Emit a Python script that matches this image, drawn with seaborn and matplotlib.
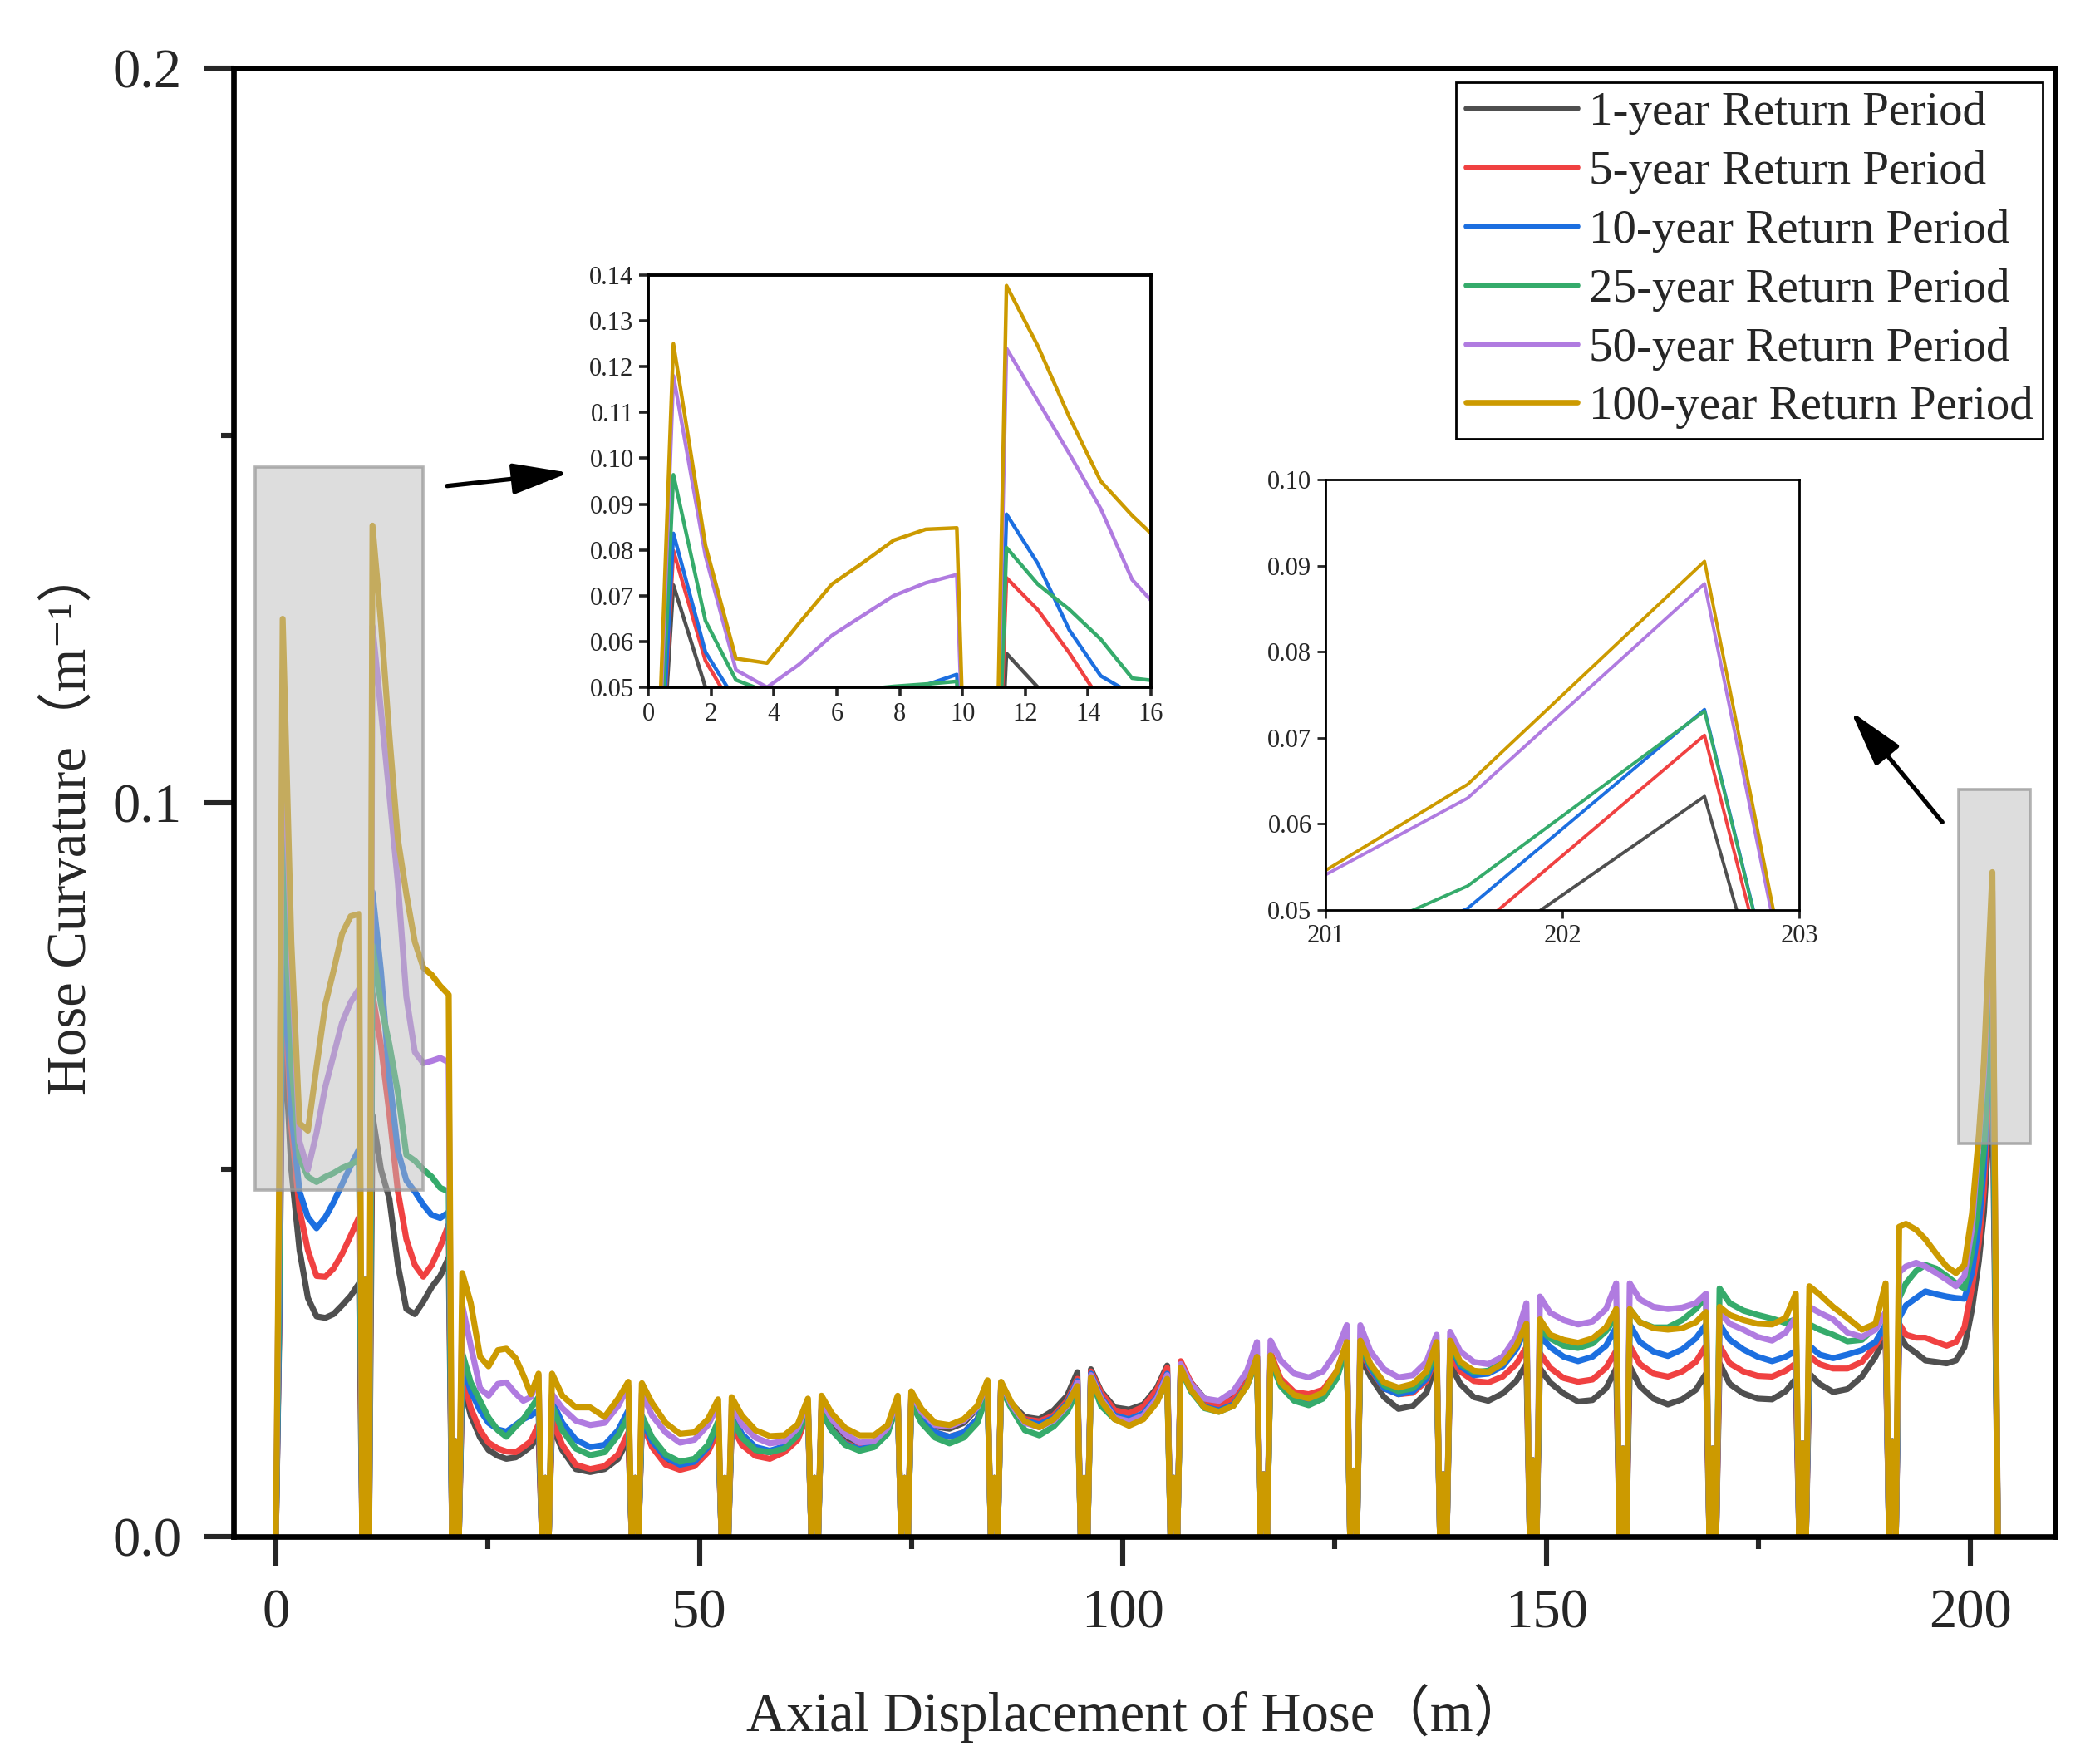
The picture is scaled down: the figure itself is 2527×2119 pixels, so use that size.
import matplotlib
matplotlib.use("Agg")
import matplotlib.pyplot as plt
import seaborn as sns
import pandas as pd
from matplotlib.patches import Rectangle

# ---------------- data ----------------
periods = ["1-year Return Period", "5-year Return Period", "10-year Return Period",
           "25-year Return Period", "50-year Return Period", "100-year Return Period"]
colors = ["#4f4f4f", "#f04141", "#1c6fe0", "#35ab6b", "#b07be0", "#cc9a00"]

# axial positions (m) of the support points where curvature drops to zero
dip_x = [10.6, 21.2, 31.8, 42.4, 53.0, 63.6, 74.2, 84.8, 95.4, 106.0, 116.6,
         127.2, 137.8, 148.4, 159.0, 169.6, 180.2, 190.8]
dip_spike = [0.035, 0.013, 0.008, 0.008, 0.008, 0.008, 0.008, 0.008, 0.008, 0.008,
             0.0085, 0.009, 0.0085, 0.0104, 0.012, 0.012, 0.0127, 0.013]
end_x = 203.25

seg_x = [
    [0.0, 0.4, 0.8, 1.82, 2.79, 3.78, 4.8, 5.84, 6.79, 7.81, 8.83, 9.82],
    [11.4, 12.4, 13.4, 14.4, 15.4, 16.4, 17.4, 18.4, 19.4, 20.4],
    [22.0, 23.0, 24.1, 25.1, 26.2, 27.2, 28.3, 29.2, 30.1, 31.0],
    [32.6, 33.8, 35.4, 37.1, 38.8, 40.4, 41.6],
    [43.2, 44.4, 46.0, 47.7, 49.4, 51.0, 52.2],
    [53.8, 55.0, 56.6, 58.3, 60.0, 61.6, 62.8],
    [64.4, 65.6, 67.2, 68.9, 70.6, 72.2, 73.4],
    [75.0, 76.2, 77.8, 79.5, 81.2, 82.8, 84.0],
    [85.6, 86.8, 88.4, 90.1, 91.8, 93.4, 94.6],
    [96.2, 97.4, 99.0, 100.7, 102.4, 104.0, 105.2],
    [106.8, 108.0, 109.6, 111.3, 113.0, 114.6, 115.8],
    [117.4, 118.6, 120.2, 121.9, 123.6, 125.2, 126.4],
    [128.0, 129.2, 130.8, 132.5, 134.2, 135.8, 137.0],
    [138.6, 139.8, 141.4, 143.1, 144.8, 146.4, 147.6],
    [149.2, 150.4, 152.0, 153.7, 155.4, 157.0, 158.2],
    [159.8, 161.0, 162.6, 164.3, 166.0, 167.6, 168.8],
    [170.4, 171.6, 173.2, 174.9, 176.6, 178.2, 179.4],
    [181.0, 182.2, 183.8, 185.5, 187.2, 188.8, 190.0],
    [191.6, 192.4, 193.6, 194.7, 196.0, 197.2, 198.3, 199.3, 200.2, 201.0, 201.6, 202.6],
]

k_1yr = [
    [0.0, 0.028, 0.0723, 0.050, 0.039, 0.0325, 0.030, 0.0298, 0.0303, 0.0315, 0.0328, 0.0345],
    [0.0574, 0.050, 0.046, 0.037, 0.031, 0.0303, 0.032, 0.034, 0.0355, 0.038],
    [0.021, 0.0165, 0.0135, 0.0118, 0.011, 0.0106, 0.0108, 0.0115, 0.0123, 0.0138],
    [0.0152, 0.0118, 0.0092, 0.0088, 0.0092, 0.0106, 0.0134],
    [0.016, 0.0128, 0.0104, 0.0096, 0.0099, 0.0118, 0.0149],
    [0.0152, 0.013, 0.0117, 0.0115, 0.0122, 0.014, 0.0175],
    [0.0175, 0.0148, 0.013, 0.0122, 0.0127, 0.0145, 0.0185],
    [0.019, 0.0165, 0.015, 0.0147, 0.0155, 0.0175, 0.0205],
    [0.0205, 0.0181, 0.0163, 0.016, 0.0172, 0.0192, 0.0224],
    [0.0228, 0.0198, 0.0176, 0.0173, 0.018, 0.0203, 0.0233],
    [0.0235, 0.021, 0.0188, 0.0183, 0.019, 0.0212, 0.0245],
    [0.0245, 0.0212, 0.0193, 0.019, 0.0197, 0.0222, 0.026],
    [0.0245, 0.0218, 0.019, 0.0174, 0.0178, 0.0196, 0.0239],
    [0.0235, 0.0208, 0.019, 0.0185, 0.0195, 0.0212, 0.0235],
    [0.0229, 0.021, 0.0195, 0.0184, 0.0186, 0.0202, 0.0229],
    [0.0232, 0.0205, 0.0188, 0.018, 0.0187, 0.020, 0.0222],
    [0.0236, 0.0208, 0.0195, 0.0188, 0.0187, 0.0198, 0.0215],
    [0.0222, 0.0208, 0.0197, 0.0201, 0.0218, 0.0245, 0.0274],
    [0.0275, 0.026, 0.025, 0.024, 0.0238, 0.0236, 0.024, 0.0258, 0.031, 0.0375, 0.0441, 0.0632],
]

k_5yr = [
    [0.0, 0.030, 0.0798, 0.0558, 0.0445, 0.039, 0.0355, 0.0354, 0.0365, 0.0385, 0.041, 0.0435],
    [0.0739, 0.0669, 0.0575, 0.047, 0.0405, 0.037, 0.0354, 0.037, 0.0395, 0.0425],
    [0.022, 0.0175, 0.0145, 0.0128, 0.012, 0.0116, 0.0115, 0.0122, 0.013, 0.0153],
    [0.016, 0.0125, 0.0098, 0.0092, 0.0096, 0.0112, 0.0142],
    [0.0155, 0.0122, 0.0098, 0.0091, 0.0096, 0.0115, 0.0145],
    [0.0152, 0.0125, 0.011, 0.0106, 0.0115, 0.0132, 0.0168],
    [0.0172, 0.0145, 0.0127, 0.012, 0.0125, 0.0143, 0.0183],
    [0.0185, 0.016, 0.0142, 0.0136, 0.0142, 0.016, 0.0198],
    [0.0205, 0.0178, 0.016, 0.0157, 0.0165, 0.0185, 0.0215],
    [0.0225, 0.0196, 0.0172, 0.0168, 0.0177, 0.020, 0.023],
    [0.0239, 0.021, 0.0185, 0.0179, 0.0187, 0.021, 0.0245],
    [0.025, 0.0215, 0.0197, 0.0194, 0.020, 0.0225, 0.0262],
    [0.0255, 0.0228, 0.0202, 0.0194, 0.0196, 0.0212, 0.0247],
    [0.0247, 0.0225, 0.0212, 0.021, 0.0218, 0.0235, 0.0258],
    [0.025, 0.023, 0.0216, 0.0211, 0.0214, 0.023, 0.0253],
    [0.026, 0.0235, 0.0222, 0.0218, 0.0225, 0.0238, 0.026],
    [0.026, 0.0236, 0.0225, 0.0219, 0.0218, 0.0226, 0.0236],
    [0.0246, 0.0235, 0.0229, 0.0229, 0.0238, 0.026, 0.0282],
    [0.029, 0.0275, 0.0271, 0.0271, 0.0265, 0.026, 0.0265, 0.0285, 0.034, 0.040, 0.047, 0.0703],
]

k_10yr = [
    [0.0, 0.030, 0.0836, 0.0577, 0.047, 0.0435, 0.042, 0.0435, 0.0455, 0.048, 0.0505, 0.0528],
    [0.0878, 0.077, 0.0625, 0.0525, 0.0485, 0.047, 0.0452, 0.0438, 0.0434, 0.0442],
    [0.0235, 0.0198, 0.0172, 0.0155, 0.0146, 0.0143, 0.0152, 0.016, 0.0165, 0.0172],
    [0.0185, 0.0155, 0.0132, 0.0122, 0.0125, 0.0145, 0.0172],
    [0.016, 0.013, 0.0108, 0.0098, 0.0102, 0.0122, 0.0155],
    [0.0165, 0.014, 0.0122, 0.0117, 0.0123, 0.014, 0.0175],
    [0.0172, 0.0145, 0.0126, 0.0119, 0.0124, 0.0142, 0.0183],
    [0.0185, 0.016, 0.0142, 0.0136, 0.0142, 0.016, 0.020],
    [0.0205, 0.0178, 0.0158, 0.0153, 0.0162, 0.0182, 0.0212],
    [0.0222, 0.019, 0.0165, 0.016, 0.0168, 0.019, 0.0222],
    [0.023, 0.020, 0.0177, 0.0172, 0.018, 0.0206, 0.0242],
    [0.0245, 0.021, 0.019, 0.0187, 0.0195, 0.022, 0.026],
    [0.026, 0.023, 0.0202, 0.0194, 0.0198, 0.0215, 0.025],
    [0.026, 0.0232, 0.022, 0.0222, 0.0232, 0.0255, 0.0285],
    [0.0274, 0.0258, 0.0245, 0.0239, 0.0245, 0.026, 0.0285],
    [0.0289, 0.0265, 0.0252, 0.0246, 0.0255, 0.027, 0.0289],
    [0.0289, 0.0268, 0.0255, 0.0245, 0.0239, 0.0245, 0.0253],
    [0.026, 0.0248, 0.0243, 0.0248, 0.0254, 0.0265, 0.0289],
    [0.0298, 0.0315, 0.0325, 0.0334, 0.033, 0.0327, 0.0325, 0.0324, 0.036, 0.0425, 0.0502, 0.0733],
]

k_25yr = [
    [0.0, 0.035, 0.0964, 0.0645, 0.0516, 0.049, 0.0483, 0.049, 0.0495, 0.0502, 0.0507, 0.0513],
    [0.0805, 0.0725, 0.067, 0.0605, 0.052, 0.0512, 0.050, 0.049, 0.0475, 0.047],
    [0.025, 0.021, 0.0185, 0.0162, 0.0145, 0.0136, 0.015, 0.016, 0.0175, 0.019],
    [0.0178, 0.0145, 0.012, 0.0111, 0.0115, 0.0138, 0.0164],
    [0.0165, 0.0135, 0.0112, 0.0102, 0.0106, 0.0125, 0.0157],
    [0.016, 0.0135, 0.0118, 0.0115, 0.012, 0.0138, 0.0172],
    [0.0172, 0.0145, 0.0125, 0.0117, 0.0122, 0.014, 0.0183],
    [0.0182, 0.0155, 0.0135, 0.0127, 0.0135, 0.0155, 0.0195],
    [0.0202, 0.0175, 0.0145, 0.0138, 0.015, 0.017, 0.0198],
    [0.0215, 0.0178, 0.016, 0.0155, 0.0162, 0.0185, 0.0211],
    [0.0228, 0.0198, 0.0175, 0.017, 0.0178, 0.0205, 0.024],
    [0.024, 0.0205, 0.0185, 0.0179, 0.0188, 0.0215, 0.0258],
    [0.026, 0.0233, 0.0206, 0.0198, 0.0202, 0.022, 0.0254],
    [0.0262, 0.0235, 0.0224, 0.0226, 0.0238, 0.0262, 0.0292],
    [0.0282, 0.027, 0.026, 0.0257, 0.0263, 0.028, 0.030],
    [0.031, 0.0292, 0.0285, 0.0285, 0.0295, 0.031, 0.0327],
    [0.0338, 0.0318, 0.0308, 0.0302, 0.0297, 0.0291, 0.0296],
    [0.0289, 0.0282, 0.0275, 0.0266, 0.0268, 0.0285, 0.0303],
    [0.0325, 0.0345, 0.0362, 0.037, 0.0365, 0.0355, 0.0345, 0.0338, 0.039, 0.0455, 0.0528, 0.0731],
]

k_50yr = [
    [0.0, 0.045, 0.118, 0.0787, 0.0538, 0.050, 0.055, 0.0613, 0.0655, 0.070, 0.0728, 0.0746],
    [0.124, 0.1125, 0.101, 0.089, 0.0735, 0.066, 0.0645, 0.0648, 0.0652, 0.0646],
    [0.0315, 0.026, 0.0202, 0.0192, 0.0208, 0.021, 0.0195, 0.0185, 0.019, 0.022],
    [0.0194, 0.0175, 0.0158, 0.0152, 0.0155, 0.0178, 0.0205],
    [0.0195, 0.0165, 0.0142, 0.0128, 0.0132, 0.0152, 0.0179],
    [0.018, 0.0153, 0.0135, 0.0127, 0.013, 0.0148, 0.0183],
    [0.0185, 0.016, 0.014, 0.0128, 0.013, 0.0148, 0.0188],
    [0.0195, 0.017, 0.0152, 0.015, 0.0158, 0.0176, 0.021],
    [0.021, 0.018, 0.0155, 0.0149, 0.0158, 0.0178, 0.021],
    [0.022, 0.0188, 0.0162, 0.0157, 0.0165, 0.0188, 0.022],
    [0.0235, 0.0208, 0.0188, 0.0185, 0.0198, 0.0225, 0.0265],
    [0.0267, 0.024, 0.0222, 0.0217, 0.0225, 0.0252, 0.0288],
    [0.0288, 0.0252, 0.0228, 0.0217, 0.022, 0.0238, 0.0275],
    [0.0279, 0.0252, 0.0238, 0.0235, 0.0245, 0.0272, 0.0318],
    [0.0327, 0.0305, 0.0295, 0.0289, 0.0293, 0.031, 0.0345],
    [0.0345, 0.0323, 0.0313, 0.031, 0.0312, 0.0318, 0.0331],
    [0.0306, 0.029, 0.0282, 0.0272, 0.0267, 0.0278, 0.0299],
    [0.0313, 0.0305, 0.0296, 0.0278, 0.0272, 0.0282, 0.0306],
    [0.036, 0.0368, 0.0373, 0.0368, 0.0359, 0.035, 0.0341, 0.0355, 0.042, 0.0541, 0.063, 0.0879],
]

k_100yr = [
    [0.0, 0.050, 0.125, 0.081, 0.0563, 0.0553, 0.064, 0.0725, 0.077, 0.0821, 0.0845, 0.0848],
    [0.1377, 0.1245, 0.109, 0.095, 0.0875, 0.081, 0.0775, 0.0765, 0.075, 0.0738],
    [0.0359, 0.0318, 0.0245, 0.0232, 0.0254, 0.0256, 0.0243, 0.022, 0.0194, 0.0222],
    [0.0222, 0.0192, 0.0176, 0.0176, 0.0163, 0.0188, 0.0211],
    [0.0209, 0.0182, 0.0155, 0.014, 0.0142, 0.016, 0.0187],
    [0.019, 0.0165, 0.0145, 0.0137, 0.0138, 0.0153, 0.0188],
    [0.0192, 0.0168, 0.0148, 0.0138, 0.0138, 0.0152, 0.0192],
    [0.0198, 0.0174, 0.0155, 0.0152, 0.016, 0.0178, 0.0213],
    [0.0211, 0.0183, 0.0157, 0.0149, 0.016, 0.018, 0.0205],
    [0.0217, 0.0185, 0.016, 0.0151, 0.016, 0.0183, 0.0215],
    [0.023, 0.020, 0.0176, 0.017, 0.0178, 0.0205, 0.0245],
    [0.0247, 0.021, 0.0193, 0.0188, 0.0196, 0.0225, 0.0265],
    [0.0267, 0.0235, 0.021, 0.0203, 0.0208, 0.0225, 0.0265],
    [0.0267, 0.0238, 0.0226, 0.0224, 0.0236, 0.026, 0.029],
    [0.0296, 0.0275, 0.0268, 0.0264, 0.027, 0.0285, 0.031],
    [0.031, 0.0292, 0.0284, 0.0282, 0.0284, 0.0292, 0.0306],
    [0.0313, 0.0302, 0.0295, 0.029, 0.0289, 0.0298, 0.0331],
    [0.0341, 0.033, 0.0313, 0.0298, 0.0282, 0.029, 0.0345],
    [0.0422, 0.0426, 0.0418, 0.0405, 0.0385, 0.0368, 0.0359, 0.037, 0.044, 0.0546, 0.0646, 0.0905],
]

series = [k_1yr, k_5yr, k_10yr, k_25yr, k_50yr, k_100yr]


def assemble(segs):
    xs, ys = [], []
    for i, (sx, sy) in enumerate(zip(seg_x, segs)):
        assert len(sx) == len(sy), (i, len(sx), len(sy))
        xs += sx
        ys += sy
        if i < len(dip_x):
            d = dip_x[i]
            xs += [d - 0.4, d, d + 0.4]
            ys += [0.0, dip_spike[i], 0.0]
    xs.append(end_x)
    ys.append(0.0)
    return xs, ys


frames = []
for name, segs in zip(periods, series):
    xs, ys = assemble(segs)
    frames.append(pd.DataFrame({"x": xs, "k": ys, "period": name}))
df = pd.concat(frames, ignore_index=True)

# ---------------- style ----------------
sns.set_style("ticks")
fam = ["Liberation Serif", "DejaVu Serif", "Noto Sans CJK SC"]
plt.rcParams["font.family"] = fam
plt.rcParams["axes.unicode_minus"] = False

fig = plt.figure(figsize=(12.635, 10.595), dpi=200)
ax = fig.add_axes([0.1112, 0.1274, 0.8674, 0.8339])

sns.lineplot(data=df, x="x", y="k", hue="period", hue_order=periods, palette=colors,
             estimator=None, sort=False, linewidth=2.6, ax=ax)

ax.set_xlim(-5, 210)
ax.set_ylim(0, 0.2)
ax.set_xticks([0, 50, 100, 150, 200])
ax.set_xticks([25, 75, 125, 175], minor=True)
ax.set_yticks([0.0, 0.1, 0.2])
ax.set_yticklabels(["0.0", "0.1", "0.2"])
ax.set_yticks([0.05, 0.15], minor=True)
ax.tick_params(which="major", direction="out", length=12.5, width=2.2, labelsize=24, pad=10,
               top=False, right=False)
ax.tick_params(which="minor", direction="out", length=5.5, width=2.2, top=False, right=False)
for s in ax.spines.values():
    s.set_linewidth(2.4)
    s.set_color("black")
ax.set_xlabel("")
ax.set_ylabel("")

# highlighted regions and arrows
ax.add_patch(Rectangle((-2.45, 0.0472), 19.8, 0.0985, facecolor=(0.741, 0.741, 0.741, 0.5),
                       edgecolor=(0.6, 0.6, 0.6, 0.75), lw=1.3, zorder=5))
ax.add_patch(Rectangle((198.6, 0.0535), 8.45, 0.0483, facecolor=(0.741, 0.741, 0.741, 0.5),
                       edgecolor=(0.6, 0.6, 0.6, 0.75), lw=1.3, zorder=5))
arrow_kw = dict(arrowstyle="-|>,head_length=0.8,head_width=0.22", color="black", lw=1.9,
                mutation_scale=26, shrinkA=0, shrinkB=0)
ax.annotate("", xy=(34.6, 0.1449), xytext=(20.2, 0.1431), arrowprops=arrow_kw, zorder=6)
ax.annotate("", xy=(185.9, 0.1124), xytext=(196.7, 0.0973), arrowprops=arrow_kw, zorder=6)

# legend
handles, labels = ax.get_legend_handles_labels()
leg = ax.legend(handles, labels, loc="upper right", bbox_to_anchor=(0.9932, 0.9904),
                borderaxespad=0, frameon=True, fancybox=False, edgecolor="black",
                fontsize=20.5, handlelength=2.35, handletextpad=0.25, labelspacing=0.33,
                borderpad=0.2, framealpha=1)
leg.get_frame().set_linewidth(1.0)
for ln in leg.get_lines():
    ln.set_linewidth(2.4)

fig.text(0.5417, 0.027, "Axial Displacement of Hose（m）", ha="center", va="center",
         fontsize=24, family=fam)
fig.text(0.0335, 0.5337, "Hose Curvature（m⁻¹）", ha="center", va="center",
         rotation=90, fontsize=24, family=fam)

# inset 1
ax1 = fig.add_axes([0.3087, 0.6097, 0.2394, 0.2341])
sns.lineplot(data=df, x="x", y="k", hue="period", hue_order=periods, palette=colors,
             estimator=None, sort=False, linewidth=1.6, ax=ax1, legend=False)
ax1.set_xlim(0, 16)
ax1.set_ylim(0.05, 0.14)
ax1.set_xticks(list(range(0, 17, 2)))
ytk1 = [0.05, 0.06, 0.07, 0.08, 0.09, 0.10, 0.11, 0.12, 0.13, 0.14]
ax1.set_yticks(ytk1)
ax1.set_yticklabels([f"{v:.2f}" for v in ytk1])
ax1.tick_params(direction="out", length=3.8, width=1.3, labelsize=11, pad=2.5)
ax1.set_xlabel("")
ax1.set_ylabel("")
for s in ax1.spines.values():
    s.set_linewidth(1.4)
    s.set_color("black")

# inset 2
ax2 = fig.add_axes([0.6312, 0.4832, 0.2256, 0.2445])
sns.lineplot(data=df, x="x", y="k", hue="period", hue_order=periods, palette=colors,
             estimator=None, sort=False, linewidth=1.4, ax=ax2, legend=False)
ax2.set_xlim(201, 203)
ax2.set_ylim(0.05, 0.10)
ax2.set_xticks([201, 202, 203])
ytk2 = [0.05, 0.06, 0.07, 0.08, 0.09, 0.10]
ax2.set_yticks(ytk2)
ax2.set_yticklabels([f"{v:.2f}" for v in ytk2])
ax2.tick_params(direction="out", length=3.5, width=1.0, labelsize=11, pad=2.5)
ax2.set_xlabel("")
ax2.set_ylabel("")
for s in ax2.spines.values():
    s.set_linewidth(1.0)
    s.set_color("black")

fig.savefig("out.png", dpi=200)
